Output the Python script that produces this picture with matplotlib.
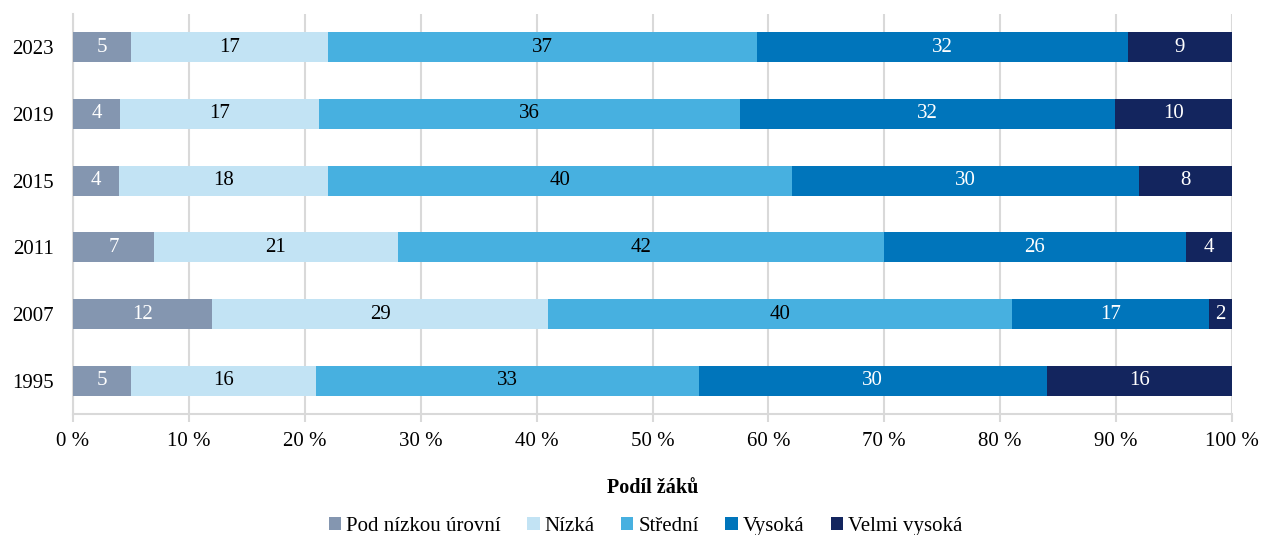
import numpy as np
import matplotlib.pyplot as plt

plt.rcParams['font.family'] = ['Liberation Serif', 'DejaVu Serif']

# Data
years = ['1995', '2007', '2011', '2015', '2019', '2023']
levels = ['Pod nízkou úrovní', 'Nízká', 'Střední', 'Vysoká', 'Velmi vysoká']
pod = [5, 12, 7, 4, 4, 5]
nizka = [16, 29, 21, 18, 17, 17]
stredni = [33, 40, 42, 40, 36, 37]
vysoka = [30, 17, 26, 30, 32, 32]
velmi = [16, 2, 4, 8, 10, 9]

colors = ['#8496B0', '#C2E3F4', '#47B0E0', '#0075BB', '#13255E']
text_colors = ['white', 'black', 'black', 'white', 'white']

series = np.array([pod, nizka, stredni, vysoka, velmi], dtype=float)
shares = series / series.sum(axis=0) * 100

fig = plt.figure(figsize=(12.61, 5.35), dpi=100)
ax = fig.add_axes([0.0579, 0.226, 0.9191, 0.748])

y = np.arange(len(years))
left = np.zeros(len(years))
for i in range(len(levels)):
    bars = ax.barh(y, shares[i], left=left, height=0.45, color=colors[i],
                   label=levels[i], zorder=3)
    for b, v in zip(bars, series[i]):
        ax.text(b.get_x() + b.get_width() / 2, b.get_y() + b.get_height() / 2,
                f'{v:.0f}', ha='center', va='center', fontsize=15,
                color=text_colors[i], zorder=4)
    left += shares[i]

ax.set_xlim(0, 100)
ax.set_ylim(-0.5, len(years) - 0.5)
ax.set_yticks(y)
ax.set_yticklabels(years, fontsize=15)
ax.set_xticks(np.arange(0, 101, 10))
ax.set_xticklabels([f'{t} %' for t in range(0, 101, 10)], fontsize=15)
ax.tick_params(axis='y', length=0, pad=14)
ax.tick_params(axis='x', length=6, color='#D9D9D9', width=1.5, pad=7)
ax.grid(axis='x', color='#D9D9D9', linewidth=1.5, zorder=0)
for s in ['top', 'right']:
    ax.spines[s].set_visible(False)
ax.spines['bottom'].set_color('#D9D9D9')
ax.spines['bottom'].set_linewidth(1.5)
ax.spines['left'].set_color('#D9D9D9')
ax.spines['left'].set_linewidth(1.5)

ax.set_xlabel('Podíl žáků', fontsize=14.5, fontweight='bold', labelpad=19)

fig.legend(loc='center', bbox_to_anchor=(0.512, 0.016), ncol=5, frameon=False,
           fontsize=15, handlelength=0.6, handleheight=0.6, handletextpad=0.25,
           columnspacing=1.25)

plt.savefig('out.png', dpi=100)
